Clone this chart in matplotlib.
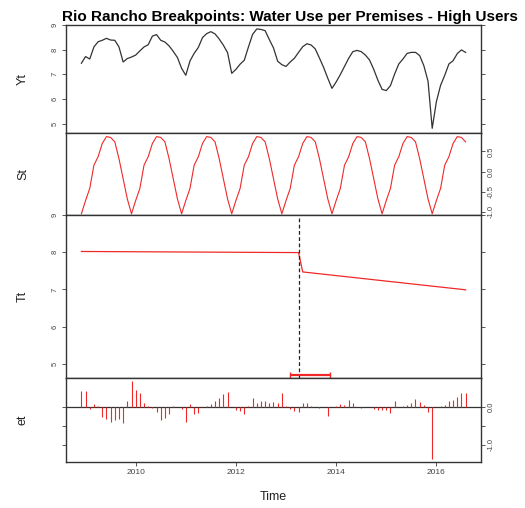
import numpy as np
import matplotlib
matplotlib.use("Agg")
import matplotlib.pyplot as plt

plt.rcParams['font.family'] = ['Liberation Sans', 'DejaVu Sans']

# monthly series, Dec 2008 .. Aug 2016
start = 2008 + 11 / 12.0
n_months = 93
t = start + np.arange(n_months) / 12.0

# data component Yt
yt = [7.45, 7.72, 7.62, 8.11, 8.32, 8.38, 8.46, 8.39, 8.38, 8.11, 7.50, 7.64,
      7.70, 7.78, 7.95, 8.11, 8.20, 8.55, 8.61, 8.38, 8.31, 8.15, 7.93, 7.68,
      7.24, 6.96, 7.54, 7.85, 8.09, 8.49, 8.65, 8.73, 8.64, 8.43, 8.18, 7.88,
      7.04, 7.20, 7.41, 7.57, 8.11, 8.62, 8.84, 8.82, 8.77, 8.41, 8.07, 7.53,
      7.39, 7.32, 7.50, 7.65, 7.89, 8.12, 8.24, 8.19, 8.03, 7.66, 7.28, 6.84,
      6.43, 6.69, 6.99, 7.32, 7.65, 7.92, 7.97, 7.92, 7.78, 7.58, 7.20, 6.76,
      6.39, 6.34, 6.54, 7.01, 7.42, 7.62, 7.85, 7.89, 7.89, 7.76, 7.35, 6.72,
      4.81, 5.89, 6.55, 6.96, 7.42, 7.55, 7.84, 7.99, 7.89]

# seasonal component St (Dec .. Nov rows)
st = [-1.05, -0.72, -0.42, 0.16, 0.37, 0.70, 0.87, 0.85, 0.74, 0.32, -0.18, -0.68,
      -1.05, -0.72, -0.42, 0.16, 0.37, 0.70, 0.87, 0.85, 0.74, 0.32, -0.18, -0.68,
      -1.05, -0.72, -0.42, 0.16, 0.37, 0.70, 0.87, 0.85, 0.74, 0.32, -0.18, -0.68,
      -1.05, -0.72, -0.42, 0.16, 0.37, 0.70, 0.87, 0.85, 0.74, 0.32, -0.18, -0.68,
      -1.05, -0.72, -0.42, 0.16, 0.37, 0.70, 0.87, 0.85, 0.74, 0.32, -0.18, -0.68,
      -1.05, -0.72, -0.42, 0.16, 0.37, 0.70, 0.87, 0.85, 0.74, 0.32, -0.18, -0.68,
      -1.05, -0.72, -0.42, 0.16, 0.37, 0.70, 0.87, 0.85, 0.74, 0.32, -0.18, -0.68,
      -1.05, -0.72, -0.42, 0.16, 0.37, 0.70, 0.87, 0.85, 0.74]

# trend component Tt: piecewise linear, one break
tt_time = [2008 + 11 / 12.0, 2013.25, 2013 + 4 / 12.0, 2016 + 7 / 12.0]
tt_vals = [8.02, 7.99, 7.47, 6.99]
breakpoint = 2013.25
ci_low, ci_high = 2013.08, 2013.88

# remainder et
et = [0.43, 0.43, -0.04, 0.08, 0.03, -0.27, -0.32, -0.38, -0.35, -0.30, -0.41, 0.18,
      0.70, 0.45, 0.38, 0.12, 0.03, -0.02, -0.13, -0.33, -0.29, -0.19, 0.03, 0.02,
      -0.05, -0.38, 0.10, -0.19, -0.15, 0.02, 0.03, 0.08, 0.16, 0.25, 0.35, 0.41,
      0.02, -0.06, -0.11, -0.19, 0.03, 0.25, 0.11, 0.16, 0.16, 0.11, 0.13, 0.11,
      0.39, 0.04, -0.05, -0.10, -0.12, 0.12, 0.12, 0.04, 0.02, -0.03, 0.02, -0.22,
      0.02, 0.03, 0.09, 0.05, 0.20, 0.11, 0.02, -0.02, 0.01, 0.02, -0.04, -0.06,
      -0.08, -0.06, -0.16, 0.16, 0.02, 0.03, 0.05, 0.12, 0.22, 0.14, 0.05, -0.13,
      -1.38, 0.02, 0.03, 0.05, 0.16, 0.20, 0.28, 0.38, 0.38]

red = '#f02828'
frame = '#333333'
W, H = 525, 508


def panel(top, bottom):
    ax = fig.add_axes([66 / W, 1 - bottom / H, (481 - 66) / W, (bottom - top) / H])
    for s in ax.spines.values():
        s.set_color(frame)
        s.set_linewidth(1.0)
    ax.tick_params(direction='out', length=3, width=0.7, color='#555555',
                   labelsize=5.5, labelcolor='#444444', pad=2)
    ax.set_xlim(start - 0.307, t[-1] + 0.307)
    ax.set_xticks([2010, 2012, 2014, 2016])
    ax.tick_params(axis='x', bottom=False, labelbottom=False)
    return ax


fig = plt.figure(figsize=(W / 100, H / 100), dpi=100)

# Yt
ax1 = panel(25, 133)
ax1.plot(t, yt, color='#333333', lw=0.9)
ax1.set_ylim(4.62, 9.0)
ax1.set_yticks([5, 6, 7, 8, 9])
ax1.tick_params(axis='y', left=True, right=True, labelleft=True)
for lb in ax1.get_yticklabels():
    lb.set_rotation(90)
    lb.set_va('center')

# St
ax2 = panel(133, 215)
ax2.plot(t, st, color=red, lw=0.8)
ax2.set_ylim(-1.08, 0.96)
ax2.set_yticks([-1.0, -0.5, 0.0, 0.5])
ax2.set_yticklabels(['-1.0', '-0.5', '0.0', '0.5'])
ax2.tick_params(axis='y', left=False, right=True, labelleft=False, labelright=True)
for lb in ax2.get_yticklabels():
    lb.set_rotation(90)
    lb.set_va('center')

# Tt
ax3 = panel(215, 378)
ax3.plot(tt_time, tt_vals, color=red, lw=0.9)
ax3.set_ylim(4.62, 9.0)
ax3.set_yticks([5, 6, 7, 8, 9])
ax3.tick_params(axis='y', left=True, right=True, labelleft=True)
for lb in ax3.get_yticklabels():
    lb.set_rotation(90)
    lb.set_va('center')
ax3.axvline(breakpoint, color='#222222', ls=(0, (3, 2)), lw=0.9)
ci_y = 4.70
ax3.errorbar([breakpoint], [ci_y],
             xerr=[[breakpoint - ci_low], [ci_high - breakpoint]],
             fmt='none', ecolor=red, elinewidth=1.6, capsize=2.5, capthick=1.0)

# et
ax4 = panel(378, 462)
ax4.axhline(0, color=frame, lw=0.9)
ax4.vlines(t, 0, et, color=red, lw=0.8)
ax4.set_ylim(-1.46, 0.78)
ax4.set_yticks([-1.0, -0.5, 0.0])
ax4.set_yticklabels(['-1.0', '', '0.0'])
ax4.tick_params(axis='y', left=True, right=True, labelleft=False, labelright=True)
for lb in ax4.get_yticklabels():
    lb.set_rotation(90)
    lb.set_va('center')
ax4.tick_params(axis='x', bottom=True, labelbottom=True, labelsize=6)

for name, yc in [('Yt', 79), ('St', 174), ('Tt', 296), ('et', 420)]:
    fig.text(23 / W, 1 - yc / H, name, rotation=90, ha='center', va='center',
             fontsize=9, color='#222222')

fig.text(273 / W, 1 - 497 / H, 'Time', ha='center', va='center', fontsize=9,
         color='#222222')
fig.text(290 / W, 1 - 21 / H,
         'Rio Rancho Breakpoints: Water Use per Premises - High Users',
         ha='center', va='baseline', fontsize=11, fontweight='bold')

fig.savefig('out.png', dpi=100)
